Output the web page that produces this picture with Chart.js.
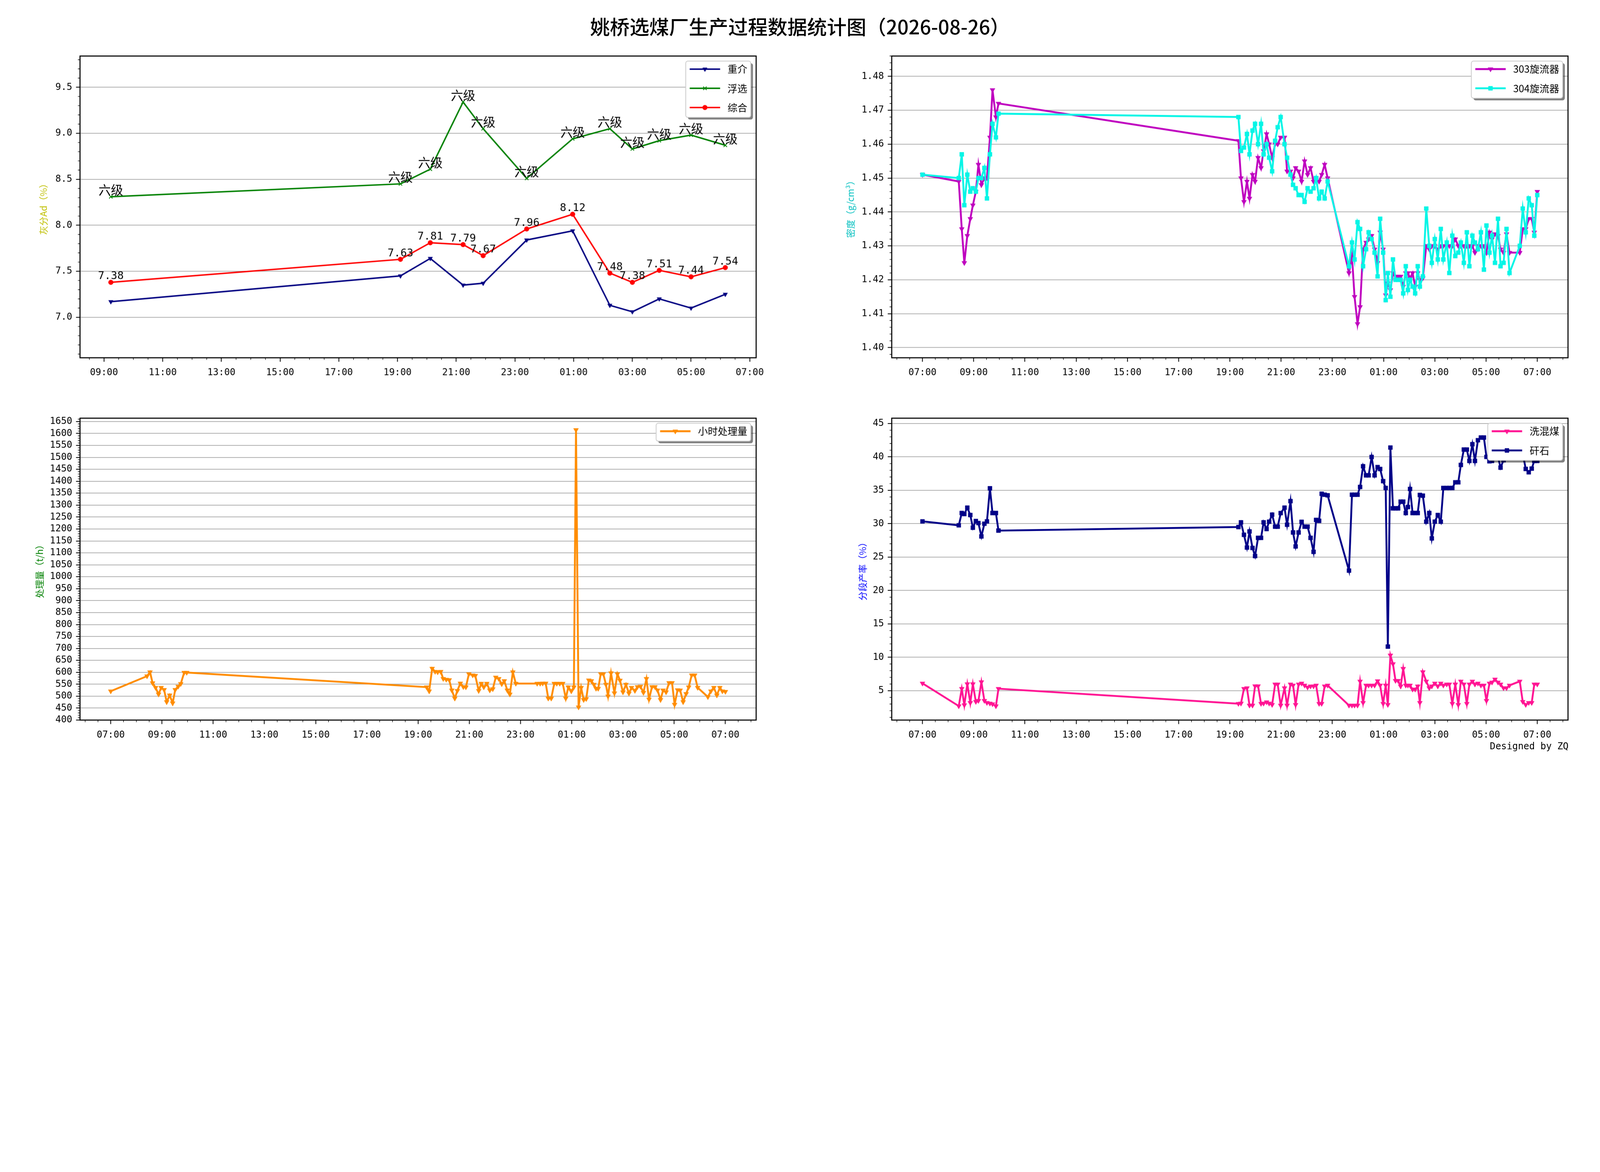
<!DOCTYPE html>
<html>
<head>
<meta charset="utf-8">
<title>姚桥选煤厂生产过程数据统计图</title>
<script src="https://cdn.jsdelivr.net/npm/chart.js@4.4.1/dist/chart.umd.min.js"></script>
<style>
  html, body { margin: 0; padding: 0; background: #fff; overflow: hidden; }
  #pagina { position: absolute; left: 0; top: 0; width: 6000px; height: 3000px; transform-origin: 0 0; background: #fff; }
  canvas { position: absolute; }
  #titulo { position: absolute; left: 0; top: 58px; width: 6000px; text-align: center;
            font: 500 74px/78px "Noto Sans CJK SC", sans-serif; color: #000; }
  #assinatura { position: absolute; right: 118px; top: 2777px;
                font: 35px/40px "DejaVu Sans Mono", monospace; color: #000; }
</style>
</head>
<body>
<div id="pagina">
<div id="titulo">姚桥选煤厂生产过程数据统计图（2026-08-26）</div>
<canvas id="graficoCinza" style="left:0px;top:170px"></canvas>
<canvas id="graficoDensidade" style="left:3044px;top:170px"></canvas>
<canvas id="graficoCarga" style="left:0px;top:1528px"></canvas>
<canvas id="graficoRendimento" style="left:3044px;top:1528px"></canvas>
<div id="assinatura">Designed by ZQ</div>
</div>
<script>
const CJK = '"Noto Sans CJK SC", sans-serif';
const MONO = '"DejaVu Sans Mono", monospace';

// ---- 灰分 (化验时间) ----
const ashTimes = ['09:14','19:06','20:07','21:14','21:55','23:24','00:58','02:14','03:00','03:55','05:00','06:10'];
const ashHeavy = [7.17, 7.45, 7.64, 7.35, 7.37, 7.84, 7.94, 7.13, 7.06, 7.20, 7.10, 7.25];
const ashFlot  = [8.31, 8.45, 8.61, 9.34, 9.05, 8.51, 8.94, 9.05, 8.83, 8.92, 8.98, 8.87];
const ashTotal = [7.38, 7.63, 7.81, 7.79, 7.67, 7.96, 8.12, 7.48, 7.38, 7.51, 7.44, 7.54];
const flotGrade = ['六级','六级','六级','六级','六级','六级','六级','六级','六级','六级','六级','六级'];

// ---- 生产过程采样时间 ----
const sampleTimes = [
  '07:00','08:25','08:32','08:38','08:45','08:52','08:58','09:05','09:11','09:18','09:25','09:31','09:38','09:44','09:52','09:58',
  '19:20','19:26','19:33','19:40','19:46','19:53','19:59','20:06','20:13','20:19','20:26','20:32','20:39','20:46','20:52','20:59',
  '21:08','21:14','21:22','21:28','21:34','21:41','21:48','21:55','22:02','22:09','22:16','22:22','22:29','22:35','22:42','22:49',
  '23:39','23:46','23:52','23:59','00:05','00:12','00:19','00:25','00:32','00:39','00:46','00:52','00:59','01:05','01:10','01:16',
  '01:22','01:28','01:34','01:40','01:46','01:52','01:57','02:02','02:08','02:14','02:20','02:25','02:32','02:40','02:47','02:53',
  '03:00','03:07','03:14','03:20','03:28','03:34','03:41','03:48','03:55','04:01','04:08','04:15','04:21','04:28','04:34','04:41',
  '04:48','04:55','05:01','05:08','05:14','05:21','05:28','05:34','05:41','05:48','05:55',
  '06:19','06:26','06:33','06:40','06:47','06:53','07:00'
];
const cyclone303 = [
  1.451,1.449,1.435,1.425,1.433,1.438,1.442,1.446,1.454,1.448,1.450,1.450,1.462,1.476,1.468,1.472,
  1.461,1.450,1.443,1.449,1.444,1.451,1.449,1.456,1.453,1.458,1.463,1.460,1.456,1.460,1.460,1.462,
  1.462,1.452,1.452,1.450,1.453,1.452,1.449,1.455,1.451,1.453,1.449,1.450,1.449,1.451,1.454,1.450,
  1.422,1.427,1.415,1.407,1.412,1.429,1.431,1.432,1.433,1.429,1.425,1.434,1.429,1.4155,1.419,1.417,
  1.422,1.421,1.421,1.421,1.418,1.422,1.422,1.4205,1.422,1.418,1.422,1.420,1.4205,1.430,1.429,1.430,
  1.430,1.429,1.430,1.430,1.430,1.430,1.430,1.432,1.430,1.430,1.430,1.430,1.430,1.430,1.428,1.430,
  1.430,1.430,1.428,1.434,1.432,1.4335,1.433,1.429,1.428,1.4335,1.428,
  1.428,1.435,1.435,1.438,1.438,1.434,1.446
];
const cyclone304 = [
  1.451,1.450,1.457,1.442,1.451,1.446,1.447,1.446,1.450,1.450,1.453,1.444,1.457,1.466,1.462,1.469,
  1.468,1.458,1.459,1.463,1.457,1.464,1.466,1.460,1.466,1.457,1.460,1.456,1.452,1.461,1.465,1.468,
  1.460,1.456,1.451,1.448,1.447,1.445,1.445,1.443,1.447,1.446,1.447,1.450,1.444,1.446,1.444,1.449,
  1.424,1.431,1.426,1.437,1.435,1.424,1.429,1.434,1.432,1.428,1.421,1.438,1.428,1.414,1.422,1.415,
  1.426,1.420,1.420,1.420,1.416,1.424,1.417,1.420,1.418,1.416,1.424,1.418,1.421,1.441,1.430,1.425,
  1.432,1.426,1.435,1.426,1.431,1.422,1.433,1.427,1.428,1.431,1.425,1.434,1.424,1.433,1.431,1.429,
  1.434,1.423,1.436,1.428,1.433,1.425,1.438,1.424,1.425,1.435,1.422,
  1.430,1.441,1.434,1.444,1.442,1.433,1.445
];
const hourlyFeed = [
  521,584,601,555,536,508,536,527,476,504,471,527,541,552,599,599,
  538,521,616,603,601,603,573,570,568,525,491,523,554,539,538,593,
  588,586,523,553,538,553,525,530,579,573,551,564,525,508,601,553,
  553,553,554,554,491,491,553,553,553,553,491,538,521,538,1615,454,
  536,485,489,567,564,549,532,532,593,593,549,500,597,513,593,566,
  517,549,512,536,523,539,541,515,573,487,539,539,525,485,525,517,
  556,556,465,526,525,476,510,538,588,588,536,
  497,521,536,504,536,521,519
];
const middlingYield = [
  6.1,2.7,5.3,2.85,6.0,3.2,6.0,3.35,3.5,6.3,3.5,3.2,3.1,3.0,2.7,5.3,
  3.06,3.1,5.3,5.4,2.8,2.8,5.7,5.7,3.06,3.1,3.3,3.1,2.9,5.96,5.96,2.8,
  5.4,2.8,5.96,5.8,2.9,5.96,6.1,5.8,5.5,5.67,5.67,5.8,3.06,3.06,5.67,5.8,
  2.8,2.8,2.8,2.8,6.4,3.2,5.8,5.8,5.8,5.8,6.45,5.8,3.06,5.8,2.9,10.3,
  9.0,6.5,6.5,5.67,8.3,5.8,5.8,5.8,5.2,5.2,5.67,3.2,7.8,6.4,5.4,5.67,
  6.1,5.67,6.1,5.8,5.96,5.96,3.06,5.96,2.9,6.4,5.96,3.06,5.96,6.4,5.96,6.1,
  5.8,5.8,3.5,6.1,6.25,6.7,6.25,5.96,5.4,5.4,5.8,
  6.4,3.35,2.9,3.2,3.2,5.96,5.96
];
const gangueYield = [
  30.35,29.76,31.6,31.45,32.4,31.3,29.4,30.4,30.1,28.1,30.0,30.35,35.3,31.6,31.6,28.97,
  29.5,30.2,28.34,26.43,28.84,26.37,25.16,27.88,27.88,30.2,29.21,30.3,31.36,29.56,29.56,31.59,
  32.4,29.85,33.38,28.69,26.6,28.69,30.28,29.56,29.56,27.88,25.79,30.57,30.43,34.48,34.34,34.25,
  22.98,34.34,34.34,34.34,35.5,38.6,37.24,37.24,39.99,37.24,38.48,38.19,36.37,35.35,11.6,41.4,
  32.3,32.3,32.3,33.3,33.3,31.6,32.5,35.2,31.6,31.6,31.6,34.3,34.2,30.3,31.6,27.8,
  30.3,31.3,30.3,35.35,35.35,35.35,35.35,36.2,36.2,38.8,41.1,41.1,39.4,41.9,39.4,42.5,
  42.9,42.9,40.0,39.35,39.4,40.5,40.0,38.4,39.5,40.5,40.0,
  40.0,40.5,38.2,37.7,38.25,39.4,39.4
];

// ---- 刻度 ----
const hourTicksFull = ['07:00','09:00','11:00','13:00','15:00','17:00','19:00','21:00','23:00','01:00','03:00','05:00','07:00'];
const hourTicksAsh  = ['09:00','11:00','13:00','15:00','17:00','19:00','21:00','23:00','01:00','03:00','05:00','07:00'];
const ashTicks = [7.0, 7.5, 8.0, 8.5, 9.0, 9.5];
const densityTicks = [1.40, 1.41, 1.42, 1.43, 1.44, 1.45, 1.46, 1.47, 1.48];
const feedTicks = [400,450,500,550,600,650,700,750,800,850,900,950,1000,1050,1100,1150,1200,1250,1300,1350,1400,1450,1500,1550,1600,1650];
const yieldTicks = [5, 10, 15, 20, 25, 30, 35, 40, 45];

// the page is laid out on a 6000x3000 sheet and scaled to whatever the window is
const escala = Math.min(window.innerWidth / 6000, window.innerHeight / 3000) || 1;
document.getElementById('pagina').style.transform = `scale(${escala})`;
const densidadePixels = (window.devicePixelRatio || 1) * escala;

// "HH:MM" -> minutes since 00:00 of the first day (rolls over midnight)
function paraMinutos(lista) {
    let deslocamento = 0, anterior = -1;
    return lista.map(t => {
        const [h, m] = t.split(':').map(Number);
        let v = h * 60 + m + deslocamento;
        if (v < anterior) { deslocamento += 1440; v += 1440; }
        anterior = v;
        return v;
    });
}

function formatarHora(v) {
    const h = Math.floor(v / 60) % 24, m = Math.round(v % 60);
    return String(h).padStart(2, '0') + ':' + String(m).padStart(2, '0');
}

function pontos(tempos, valores) {
    return tempos.map((x, i) => ({ x, y: valores[i] }));
}

function valoresMenores(min, max, passo, maiores) {
    const lista = [];
    for (let k = Math.ceil(min / passo - 1e-9); k <= Math.floor(max / passo + 1e-9); k++) {
        const v = k * passo;
        if (!maiores.some(m => Math.abs(m - v) < passo * 1e-3)) lista.push(v);
    }
    return lista;
}

function caminhoArredondado(ctx, x, y, w, h, r) {
    ctx.beginPath();
    ctx.moveTo(x + r, y);
    ctx.lineTo(x + w - r, y); ctx.arcTo(x + w, y, x + w, y + r, r);
    ctx.lineTo(x + w, y + h - r); ctx.arcTo(x + w, y + h, x + w - r, y + h, r);
    ctx.lineTo(x + r, y + h); ctx.arcTo(x, y + h, x, y + h - r, r);
    ctx.lineTo(x, y + r); ctx.arcTo(x, y, x + r, y, r);
    ctx.closePath();
}

// minor ticks + the four spines
function pluginMoldura(cfg) {
    return {
        id: 'moldura',
        afterDatasetsDraw(chart) {
            const { ctx, chartArea: a, scales } = chart;
            ctx.save();
            ctx.strokeStyle = '#000';
            ctx.lineWidth = 2;
            ctx.beginPath();
            valoresMenores(scales.x.min, scales.x.max, cfg.xPassoMenor, cfg.xMaiores).forEach(v => {
                const px = scales.x.getPixelForValue(v);
                ctx.moveTo(px, a.bottom); ctx.lineTo(px, a.bottom + 8);
            });
            valoresMenores(scales.y.min, scales.y.max, cfg.yPassoMenor, cfg.yMaiores).forEach(v => {
                const py = scales.y.getPixelForValue(v);
                ctx.moveTo(a.left, py); ctx.lineTo(a.left - 8, py);
            });
            ctx.stroke();
            ctx.lineWidth = 4;
            ctx.strokeRect(a.left, a.top, a.right - a.left, a.bottom - a.top);
            ctx.restore();
        }
    };
}

// text above the points (only for the ash chart)
function pluginRotulos(grupos) {
    return {
        id: 'rotulos',
        afterDatasetsDraw(chart) {
            const ctx = chart.ctx;
            ctx.save();
            ctx.fillStyle = '#000';
            ctx.textAlign = 'center';
            ctx.textBaseline = 'bottom';
            grupos.forEach(g => {
                ctx.font = g.fonte;
                chart.getDatasetMeta(g.indice).data.forEach((pt, i) => {
                    ctx.fillText(g.textos[i], pt.x, pt.y - 2);
                });
            });
            ctx.restore();
        }
    };
}

// legend box in the upper right corner, with shadow
function pluginLegenda() {
    return {
        id: 'legendaCaixa',
        afterDraw(chart) {
            const { ctx, chartArea: a } = chart;
            const conjuntos = chart.data.datasets;
            ctx.save();
            ctx.font = `37px ${CJK}`;
            const larguraTexto = Math.max(...conjuntos.map(d => ctx.measureText(d.label).width));
            const w = 15 + 114 + 28 + larguraTexto + 13;
            const h = 30 + 72 * (conjuntos.length - 1) + 37;
            const x0 = a.right - 20 - w, y0 = a.top + 19;
            ctx.fillStyle = 'rgba(0,0,0,0.5)';
            caminhoArredondado(ctx, x0 + 8, y0 + 8, w, h, 8);
            ctx.fill();
            ctx.fillStyle = '#fff';
            ctx.strokeStyle = '#cccccc';
            ctx.lineWidth = 3;
            caminhoArredondado(ctx, x0, y0, w, h, 8);
            ctx.fill();
            ctx.stroke();
            conjuntos.forEach((d, i) => {
                const cy = y0 + 30 + 72 * i;
                ctx.strokeStyle = d.borderColor;
                ctx.lineWidth = d.borderWidth;
                ctx.beginPath();
                ctx.moveTo(x0 + 15, cy); ctx.lineTo(x0 + 129, cy);
                ctx.stroke();
                ctx.fillStyle = d.pointBackgroundColor;
                ctx.strokeStyle = d.pointBorderColor;
                ctx.lineWidth = d.pointBorderWidth;
                Chart.helpers.drawPoint(ctx, {
                    pointStyle: d.pointStyle, rotation: d.pointRotation || 0,
                    radius: d.pointRadius, borderWidth: d.pointBorderWidth
                }, x0 + 72, cy);
                ctx.fillStyle = '#000';
                ctx.textAlign = 'left';
                ctx.textBaseline = 'middle';
                ctx.fillText(d.label, x0 + 157, cy);
            });
            ctx.restore();
        }
    };
}

function serie(label, cor, dados, marcador, ordem, extra) {
    return Object.assign({
        label, data: dados, order: ordem,
        borderColor: cor, backgroundColor: cor,
        pointBackgroundColor: cor, pointBorderColor: cor,
        borderWidth: 7, pointBorderWidth: 1, tension: 0,
        pointStyle: marcador, pointRadius: 11, pointRotation: marcador === 'triangle' ? 180 : 0
    }, extra || {});
}

function montarGrafico(id, largura, altura, cfg) {
    const ctx = document.getElementById(id);
    if (!ctx) {
        console.error('Canvas não encontrado:', id);
        return null;
    }
    ctx.style.width = largura + 'px';
    ctx.style.height = altura + 'px';
    ctx.width = largura;
    ctx.height = altura;
    return new Chart(ctx, {
        type: 'line',
        data: { datasets: cfg.series },
        options: {
            responsive: false,
            devicePixelRatio: densidadePixels,
            animation: false,
            events: [],
            layout: { padding: { left: 0, top: 40, right: 60, bottom: 0 } },
            plugins: { legend: { display: false }, tooltip: { enabled: false } },
            scales: {
                x: {
                    type: 'linear', min: cfg.xMin, max: cfg.xMax,
                    afterBuildTicks: s => { s.ticks = cfg.xMaiores.map(v => ({ value: v })); },
                    afterFit: s => { s.height = 120; },
                    grid: { drawOnChartArea: false, tickColor: '#000', tickWidth: 3, tickLength: 15 },
                    border: { display: false },
                    ticks: {
                        autoSkip: false, maxRotation: 0, minRotation: 0, padding: 20,
                        color: '#000', font: { family: MONO, size: 35 },
                        callback: v => formatarHora(v)
                    }
                },
                y: {
                    type: 'linear', min: cfg.yMin, max: cfg.yMax,
                    afterBuildTicks: s => { s.ticks = cfg.yMaiores.map(v => ({ value: v })); },
                    afterFit: s => { s.width = 300; },
                    grid: { color: '#b0b0b0', lineWidth: 3, tickColor: '#000', tickWidth: 3, tickLength: 15 },
                    border: { display: false },
                    ticks: {
                        autoSkip: false, padding: 14,
                        color: '#000', font: { family: MONO, size: 35 },
                        callback: v => v.toFixed(cfg.casas)
                    },
                    title: {
                        display: true, text: cfg.titulo, color: cfg.corTitulo,
                        font: { family: CJK, size: 34 },
                        padding: { top: cfg.recuoTitulo, bottom: 0 }
                    }
                }
            }
        },
        plugins: [pluginMoldura(cfg), pluginRotulos(cfg.rotulos || []), pluginLegenda()]
    });
}

function iniciarPainel() {
    const tAsh = paraMinutos(ashTimes);
    const tSample = paraMinutos(sampleTimes);
    const majorsFull = paraMinutos(hourTicksFull);
    const majorsAsh = paraMinutos(hourTicksAsh);

    montarGrafico('graficoCinza', 2895, 1291, {
        xMin: 491, xMax: 1873, xMaiores: majorsAsh, xPassoMenor: 30,
        yMin: 6.56, yMax: 9.84, yMaiores: ashTicks, yPassoMenor: 0.1, casas: 1,
        titulo: '灰分Ad（%）', corTitulo: '#bfbf00', recuoTitulo: 143,
        series: [
            serie('重介', '#000080', pontos(tAsh, ashHeavy), 'triangle', 3, { borderWidth: 5.5, pointRadius: 10 }),
            serie('浮选', '#008000', pontos(tAsh, ashFlot), 'crossRot', 2, { borderWidth: 5.5, pointRadius: 9, pointBorderWidth: 3 }),
            serie('综合', '#ff0000', pontos(tAsh, ashTotal), 'circle', 1, { borderWidth: 5.5, pointRadius: 9 })
        ],
        rotulos: [
            { indice: 1, textos: flotGrade, fonte: `46px ${CJK}` },
            { indice: 2, textos: ashTotal.map(v => v.toFixed(2)), fonte: `40px ${MONO}` }
        ]
    });

    montarGrafico('graficoDensidade', 2896, 1291, {
        xMin: 348, xMax: 1932, xMaiores: majorsFull, xPassoMenor: 30,
        yMin: 1.397, yMax: 1.486, yMaiores: densityTicks, yPassoMenor: 0.002, casas: 2,
        titulo: '密度（g/cm³）', corTitulo: '#00bfbf', recuoTitulo: 125,
        series: [
            serie('303旋流器', '#bf00bf', pontos(tSample, cyclone303), 'triangle', 2),
            serie('304旋流器', '#06f5e6', pontos(tSample, cyclone304), 'rect', 1)
        ]
    });

    montarGrafico('graficoCarga', 2895, 1292, {
        xMin: 348, xMax: 1932, xMaiores: majorsFull, xPassoMenor: 30,
        yMin: 400, yMax: 1664, yMaiores: feedTicks, yPassoMenor: 10, casas: 0,
        titulo: '处理量（t/h）', corTitulo: '#008000', recuoTitulo: 128,
        series: [
            serie('小时处理量', '#ff8c00', pontos(tSample, hourlyFeed), 'triangle', 1)
        ]
    });

    montarGrafico('graficoRendimento', 2896, 1292, {
        xMin: 348, xMax: 1932, xMaiores: majorsFull, xPassoMenor: 30,
        yMin: 0.6, yMax: 45.8, yMaiores: yieldTicks, yPassoMenor: 1, casas: 0,
        titulo: '分段产率（%）', corTitulo: '#0000ff', recuoTitulo: 171,
        series: [
            serie('洗混煤', '#ff1493', pontos(tSample, middlingYield), 'triangle', 2),
            serie('矸石', '#000088', pontos(tSample, gangueYield), 'rect', 1)
        ]
    });
}

document.addEventListener('DOMContentLoaded', iniciarPainel);
</script>
</body>
</html>
